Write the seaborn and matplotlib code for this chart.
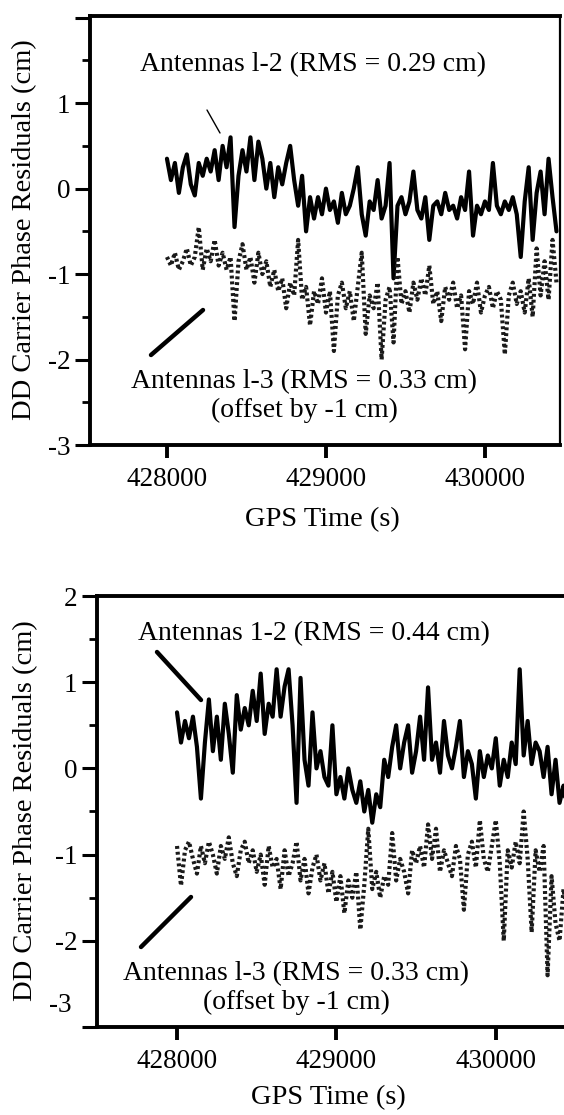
import numpy as np
import matplotlib
matplotlib.use('Agg')
import matplotlib.pyplot as plt
from matplotlib.ticker import MultipleLocator
import seaborn as sns

# sample times (s), one reading every 25 s
t_start = 428000
t_step = 25
n_pts = 99
gps_time = t_start + t_step * np.arange(n_pts)

# upper panel, antennas 1-2 (cm)
top_12 = [0.35, 0.10, 0.30, -0.05, 0.25, 0.40, 0.05, -0.08, 0.30, 0.15,
          0.35, 0.20, 0.45, 0.10, 0.50, 0.25, 0.60, -0.45, 0.15, 0.45,
          0.20, 0.60, 0.10, 0.55, 0.35, 0.00, 0.30, -0.10, 0.25, 0.05,
          0.30, 0.50, 0.10, -0.20, 0.15, -0.50, -0.10, -0.35, -0.10, -0.30,
          0.00, -0.25, -0.15, -0.40, -0.05, -0.30, -0.20, 0.00, 0.25, -0.30,
          -0.55, -0.15, -0.25, 0.10, -0.35, -0.20, 0.30, -1.05, -0.20, -0.10,
          -0.30, -0.15, 0.20, -0.25, -0.35, -0.10, -0.60, -0.20, -0.15, -0.30,
          -0.05, -0.25, -0.20, -0.35, -0.10, -0.25, 0.20, -0.55, -0.20, -0.30,
          -0.15, -0.25, 0.30, -0.20, -0.30, -0.15, -0.25, -0.10, -0.30, -0.80,
          -0.15, 0.25, -0.60, -0.05, 0.20, -0.30, 0.35, -0.10, -0.50]

# upper panel, antennas 1-3 offset by -1 cm
top_13 = [-0.80, -0.90, -0.75, -0.95, -0.85, -0.70, -0.90, -0.80, -0.45, -0.95,
          -0.70, -0.85, -0.60, -0.90, -0.75, -0.95, -0.80, -1.55, -0.85, -0.65,
          -0.95, -0.80, -1.10, -0.75, -1.00, -0.85, -1.15, -0.95, -1.20, -1.05,
          -1.40, -1.10, -1.25, -0.60, -1.30, -1.15, -1.60, -1.20, -1.35, -1.05,
          -1.45, -1.20, -1.90, -1.25, -1.10, -1.40, -1.20, -1.55, -1.15, -0.75,
          -1.70, -1.25, -1.40, -1.10, -2.00, -1.30, -1.15, -1.80, -0.80, -1.35,
          -1.20, -1.45, -1.10, -1.30, -1.05, -1.25, -0.90, -1.35, -1.20, -1.55,
          -1.15, -1.30, -1.10, -1.40, -1.25, -1.88, -1.20, -1.35, -1.10, -1.45,
          -1.25, -1.15, -1.40, -1.20, -1.30, -1.94, -1.25, -1.10, -1.35, -1.20,
          -1.45, -1.05, -1.50, -0.70, -1.25, -0.85, -1.30, -0.60, -1.10]

# lower panel, antennas 1-2
bot_12 = [0.65, 0.30, 0.55, 0.35, 0.60, 0.25, -0.35, 0.30, 0.80, 0.20,
          0.60, 0.10, 0.75, 0.40, -0.05, 0.85, 0.45, 0.70, 0.50, 0.90,
          0.55, 1.10, 0.40, 0.75, 0.60, 1.15, 0.60, 0.95, 1.15, 0.50,
          -0.40, 1.05, 0.10, -0.20, 0.65, 0.00, 0.20, -0.10, -0.20, 0.50,
          -0.30, -0.10, -0.35, 0.00, -0.25, -0.40, -0.15, -0.50, -0.25, -0.63,
          -0.30, -0.45, 0.10, -0.10, 0.25, 0.50, 0.00, 0.30, 0.50, -0.05,
          0.20, 0.60, 0.10, 0.94, 0.10, 0.30, -0.05, 0.55, 0.15, 0.00,
          0.25, 0.55, -0.10, 0.20, 0.05, -0.35, 0.20, -0.10, 0.15, 0.00,
          0.35, -0.20, 0.10, -0.10, 0.30, 0.05, 1.15, 0.15, 0.55, 0.05,
          0.30, 0.20, -0.10, 0.25, -0.30, 0.10, -0.40, -0.20, -0.55]

# lower panel, antennas 1-3 offset by -1 cm
bot_13 = [-0.90, -1.36, -0.95, -0.85, -1.05, -1.22, -0.90, -1.10, -0.85, -1.00,
          -1.22, -0.90, -1.05, -0.80, -1.10, -1.25, -0.95, -0.85, -1.10, -0.95,
          -1.20, -1.00, -1.35, -0.90, -1.15, -1.05, -1.40, -0.95, -1.25, -1.10,
          -0.85, -1.30, -1.05, -1.45, -1.15, -1.00, -1.30, -1.10, -1.45, -1.20,
          -1.55, -1.25, -1.68, -1.30, -1.50, -1.20, -1.87, -1.35, -0.70, -1.40,
          -1.20, -1.50, -1.25, -1.35, -0.75, -1.30, -1.05, -1.20, -1.45, -0.95,
          -1.10, -0.90, -1.15, -0.65, -1.05, -0.70, -1.20, -0.95, -1.10, -1.25,
          -0.90, -1.05, -1.64, -1.00, -0.85, -1.15, -0.60, -1.05, -1.20, -0.90,
          -0.60, -1.10, -2.00, -0.95, -1.15, -0.85, -1.10, -0.50, -1.05, -1.90,
          -0.95, -1.20, -0.90, -2.40, -1.25, -1.80, -2.00, -1.40, -1.70]

y_ticks = [-3, -2, -1, 0, 1, 2]
x_ticks = [428000, 429000, 430000]
x_tick_labels = ['428000', '429000', '430000']

W, H = 564, 1115


def fxy(px, py):
    # pixel position (from top-left) -> figure fraction
    return px / W, 1 - py / H


sns.set_style('ticks', {'axes.edgecolor': 'black', 'xtick.color': 'black',
                        'ytick.color': 'black', 'text.color': 'black',
                        'axes.labelcolor': 'black'})
plt.rcParams['font.family'] = ['Liberation Serif', 'DejaVu Serif']

fig = plt.figure(figsize=(W / 100, H / 100), dpi=100)

ax1 = fig.add_axes([90 / W, 1 - 445 / H, 470 / W, 429 / H])
ax2 = fig.add_axes([97 / W, 1 - 1027 / H, 467 / W, 431 / H])

for ax, s12, s13 in ((ax1, top_12, top_13), (ax2, bot_12, bot_13)):
    sns.lineplot(x=gps_time, y=s12, ax=ax, color='black', linewidth=3.0)
    sns.lineplot(x=gps_time, y=s13, ax=ax, color='#1a1a1a', linewidth=3.0,
                 linestyle=(0, (0.7, 0.7)))

ax1.set_xlim(427516, 430472)
ax1.set_ylim(-3, 2.02)
ax2.set_xlim(427498, 430428)
ax2.set_ylim(-3, 2)

for ax in (ax1, ax2):
    ax.set_xticks(x_ticks)
    ax.set_xticklabels(x_tick_labels)
    ax.set_yticks(y_ticks)
    ax.yaxis.set_minor_locator(MultipleLocator(0.5))
    ax.tick_params(axis='y', which='major', length=11, width=2.2, pad=3,
                   labelsize=19.5)
    ax.tick_params(axis='y', which='minor', length=6, width=2)
    ax.tick_params(axis='x', which='major', length=9, width=2.8, pad=7,
                   labelsize=19.5)
    for side in ('left', 'bottom', 'top'):
        ax.spines[side].set_linewidth(2.8)
    ax.set_xlabel('')
    ax.set_ylabel('')

ax1.spines['right'].set_linewidth(1.6)
ax2.spines['right'].set_visible(False)
ax1.set_yticklabels(['-3', '-2', '-1', '0', '1', ''])
ax2.set_yticklabels(['', '-2', '-1', '0', '1', '2'])
ax2.yaxis.set_minor_locator(plt.FixedLocator([-1.5, -0.5, 0.5, 1.5]))

# axis titles
ylab = 'DD Carrier Phase Residuals (cm)'
fig.text(*fxy(25, 230), ylab, rotation=90, ha='center', va='center', fontsize=20.5)
fig.text(*fxy(26, 811), ylab, rotation=90, ha='center', va='center', fontsize=20.5)
fig.text(*fxy(322, 520), 'GPS Time (s)', ha='center', va='center', fontsize=20.5)
fig.text(*fxy(328, 1098), 'GPS Time (s)', ha='center', va='center', fontsize=20.5)
fig.text(*fxy(72, 1005), '-3', ha='right', va='center', fontsize=19.5)

# labels inside the panels
fig.text(*fxy(140, 65), 'Antennas l-2 (RMS = 0.29 cm)', ha='left', va='center',
         fontsize=20)
fig.text(*fxy(304, 396), 'Antennas l-3 (RMS = 0.33 cm)\n(offset by -1 cm)',
         ha='center', va='center', fontsize=20, linespacing=1.2)
fig.text(*fxy(138, 634), 'Antennas 1-2 (RMS = 0.44 cm)', ha='left', va='center',
         fontsize=20)
fig.text(*fxy(296, 988), 'Antennas l-3 (RMS = 0.33 cm)\n(offset by -1 cm)',
         ha='center', va='center', fontsize=20, linespacing=1.2)

# leader lines
leaders = [(ax1, (207, 110), (220, 133), 1.0),
           (ax1, (151, 355), (203, 310), 3.2),
           (ax2, (157, 652), (201, 700), 3.2),
           (ax2, (141, 947), (191, 897), 3.2)]
for ax, (x0, y0), (x1, y1), lw in leaders:
    ax.annotate('', xy=fxy(x1, y1), xytext=fxy(x0, y0),
                xycoords='figure fraction', textcoords='figure fraction',
                annotation_clip=False,
                arrowprops=dict(arrowstyle='-', lw=lw, color='black',
                                shrinkA=0, shrinkB=0))

fig.savefig('out.png', dpi=100)
